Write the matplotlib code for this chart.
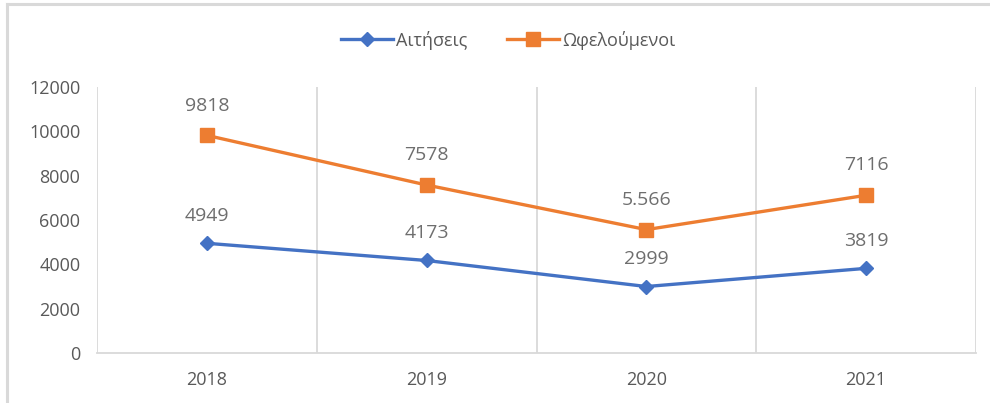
import numpy as np
import matplotlib.pyplot as plt
from matplotlib.lines import Line2D

plt.rcParams['font.family'] = ['Open Sans', 'DejaVu Sans']

years = ['2018', '2019', '2020', '2021']
requests = [4949, 4173, 2999, 3819]
beneficiaries = [9818, 7578, 5566, 7116]
request_labels = ['4949', '4173', '2999', '3819']
beneficiary_labels = ['9818', '7578', '5.566', '7116']

blue = '#4472C4'
orange = '#ED7D31'
grey_text = '#595959'
label_grey = '#6E6E6E'
grid_col = '#D9D9D9'

fig = plt.figure(figsize=(9.9, 4.03), dpi=100)
ax = fig.add_axes([97 / 990, 1 - 353 / 403, (976 - 97) / 990, (353 - 87) / 403])

x = np.arange(len(years))
ax.plot(x, requests, color=blue, lw=2.4, marker='D', ms=7,
        label='Αιτήσεις', zorder=3)
ax.plot(x, beneficiaries, color=orange, lw=2.4, marker='s', ms=10,
        label='Ωφελούμενοι', zorder=3)

for xi, v, t in zip(x, requests, request_labels):
    ax.annotate(t, (xi, v), xytext=(0, 13), textcoords='offset points',
                ha='center', va='bottom', fontsize=14, color=label_grey)
for xi, v, t in zip(x, beneficiaries, beneficiary_labels):
    ax.annotate(t, (xi, v), xytext=(0, 15), textcoords='offset points',
                ha='center', va='bottom', fontsize=14, color=label_grey)

ax.set_xlim(-0.5, len(years) - 0.5)
ax.set_ylim(0, 12000)
ax.set_yticks(np.arange(0, 12001, 2000))
ax.set_xticks(x)
ax.set_xticklabels(years)
ax.set_xticks(np.arange(-0.5, len(years), 1), minor=True)
ax.grid(True, which='minor', axis='x', color=grid_col, lw=1.3)
ax.tick_params(axis='both', which='both', length=0, colors=grey_text,
               labelsize=13)
ax.tick_params(axis='x', pad=13)
ax.tick_params(axis='y', pad=12)
for s in ['top', 'left', 'right']:
    ax.spines[s].set_visible(False)
ax.spines['bottom'].set_color(grid_col)
ax.spines['bottom'].set_linewidth(1.3)

handles = [Line2D([], [], color=blue, lw=2.4, marker='D', ms=7),
           Line2D([], [], color=orange, lw=2.4, marker='s', ms=10)]
fig.legend(handles, ['Αιτήσεις', 'Ωφελούμενοι'], loc='center',
           bbox_to_anchor=(0.513, 1 - 40 / 403), ncol=2, frameon=False,
           fontsize=13, labelcolor=grey_text, handlelength=2.9,
           handletextpad=0.15, columnspacing=2.2)

# chart border (only top and left visible in the screenshot)
fig.add_artist(Line2D([7 / 990, 1], [1 - 4 / 403] * 2, color=grid_col, lw=2.2,
                      transform=fig.transFigure))
fig.add_artist(Line2D([7 / 990] * 2, [0, 1 - 4 / 403], color=grid_col, lw=2.2,
                      transform=fig.transFigure))

fig.savefig('out.png', dpi=100)
